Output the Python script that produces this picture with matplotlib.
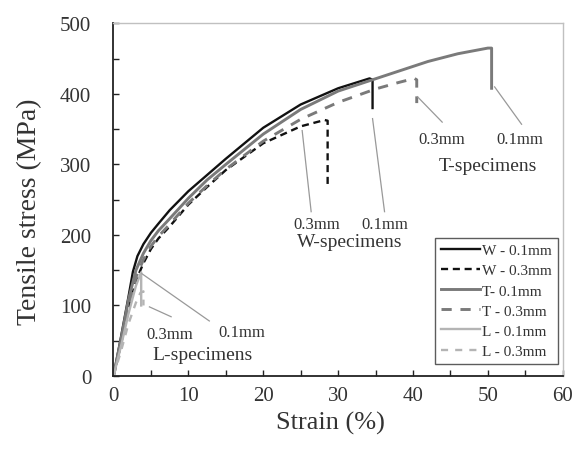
import matplotlib
matplotlib.use("Agg")
import matplotlib.pyplot as plt
from matplotlib.ticker import MultipleLocator

plt.rcParams['font.family'] = ['Liberation Serif', 'DejaVu Serif']

# ---- data (strain %, stress MPa) ----
w01_strain = [0, 1, 2, 2.6, 3.2, 4, 5, 6, 7.5, 10, 12.5, 15, 20, 25, 30, 34.2, 34.6, 34.6]
w01_stress = [0, 55, 112, 148, 170, 187, 203, 216, 235, 262, 285, 308, 352, 385, 408, 422, 420, 380]

w03_strain = [0, 1, 2, 3, 4, 5, 6, 7.5, 10, 12.5, 15, 20, 25, 28.2, 28.6, 28.6]
w03_stress = [0, 45, 95, 135, 160, 180, 195, 212, 243, 268, 292, 330, 354, 363, 362, 270]

t01_strain = [0, 1, 2, 3, 4, 5, 6, 7.5, 10, 12.5, 15, 20, 25, 30, 34, 38, 42, 46, 50, 50.5, 50.5]
t01_stress = [0, 52, 108, 150, 174, 192, 206, 223, 252, 278, 300, 343, 378, 404, 418, 432, 446, 457, 465, 465, 408]

t03_strain = [0, 1, 2, 3, 4, 5, 6, 7.5, 10, 12.5, 15, 20, 25, 30, 35, 38, 40.2, 40.5, 40.5]
t03_stress = [0, 48, 100, 140, 165, 184, 198, 215, 245, 270, 293, 333, 364, 388, 407, 416, 422, 420, 387]

l01_strain = [0, 1, 2, 3, 3.7, 3.7]
l01_stress = [0, 42, 88, 128, 147, 100]

l03_strain = [0, 1, 2, 3, 3.6, 4.0, 4.0]
l03_stress = [0, 35, 74, 104, 118, 120, 100]

series = [
    ("W - 0.1mm", w01_strain, w01_stress, dict(color='#111111', lw=1.7, ls='-')),
    ("W - 0.3mm", w03_strain, w03_stress, dict(color='#111111', lw=1.7, ls=(0, (3, 2)))),
    ("T- 0.1mm", t01_strain, t01_stress, dict(color='#7a7a7a', lw=2.1, ls='-')),
    ("T - 0.3mm", t03_strain, t03_stress, dict(color='#7a7a7a', lw=2.1, ls=(0, (3.5, 3)))),
    ("L - 0.1mm", l01_strain, l01_stress, dict(color='#b4b4b4', lw=1.7, ls='-')),
    ("L - 0.3mm", l03_strain, l03_stress, dict(color='#b4b4b4', lw=1.7, ls=(0, (3, 3)))),
]

fig = plt.figure(figsize=(5.76, 4.52), dpi=100)
ax = fig.add_axes([0.197, 0.166, 0.780, 0.780])

for label, x, y, st in series:
    ax.plot(x, y, label=label, **st)

ax.set_xlim(0, 60)
ax.set_ylim(0, 500)
ax.xaxis.set_major_locator(MultipleLocator(10))
ax.xaxis.set_minor_locator(MultipleLocator(5))
ax.yaxis.set_major_locator(MultipleLocator(100))
ax.yaxis.set_minor_locator(MultipleLocator(50))
ax.tick_params(which='both', direction='in', length=4, width=1, colors='#222222',
               labelsize=15, labelcolor='#333333')
ax.tick_params(axis='x', pad=7)
ax.tick_params(axis='y', pad=16)
for s in ['left', 'bottom']:
    ax.spines[s].set_color('#222222')
    ax.spines[s].set_linewidth(1.3)
for s in ['top', 'right']:
    ax.spines[s].set_color('#c0c0c0')
    ax.spines[s].set_linewidth(1.0)

ax.set_xlabel('Strain (%)', fontsize=19, color='#333333')
ax.set_ylabel('Tensile stress (MPa)', fontsize=20, color='#333333')
ax.xaxis.set_label_coords(0.484, -0.100)
ax.yaxis.set_label_coords(-0.159, 0.468)

# annotations
lc = '#999999'
tc = '#333333'
def leader(x0, y0, x1, y1):
    ax.plot([x0, x1], [y0, y1], color=lc, lw=0.9)

fs_small = 12
fs_big = 14

# W specimens
leader(25.2, 348, 26.4, 233)
leader(34.6, 365, 36.2, 233)
ax.text(27.1, 216, '0.3mm', ha='center', va='center', fontsize=fs_small, color=tc)
ax.text(36.2, 216, '0.1mm', ha='center', va='center', fontsize=fs_small, color=tc)
ax.text(31.5, 191, 'W-specimens', ha='center', va='center', fontsize=fs_big, color=tc)

# T specimens
leader(40.6, 396, 43.9, 360)
leader(50.9, 410, 54.5, 357)
ax.text(43.8, 336, '0.3mm', ha='center', va='center', fontsize=fs_small, color=tc)
ax.text(54.2, 336, '0.1mm', ha='center', va='center', fontsize=fs_small, color=tc)
ax.text(50.0, 298, 'T-specimens', ha='center', va='center', fontsize=fs_big, color=tc)

# L specimens
leader(3.8, 145, 12.8, 78)
leader(4.8, 98, 7.7, 84)
ax.text(7.5, 60, '0.3mm', ha='center', va='center', fontsize=fs_small, color=tc)
ax.text(17.1, 62, '0.1mm', ha='center', va='center', fontsize=fs_small, color=tc)
ax.text(11.9, 31, 'L-specimens', ha='center', va='center', fontsize=fs_big, color=tc)

leg = ax.legend(loc='lower right', bbox_to_anchor=(0.989, 0.034), fontsize=11,
                frameon=True, fancybox=False, handlelength=2.5, handletextpad=0.15,
                labelspacing=0.42, borderpad=0.4, borderaxespad=0.0)
leg.get_frame().set_edgecolor('#333333')
leg.get_frame().set_linewidth(1.0)
for t in leg.get_texts():
    t.set_color('#333333')

fig.savefig('out.png', dpi=100)
